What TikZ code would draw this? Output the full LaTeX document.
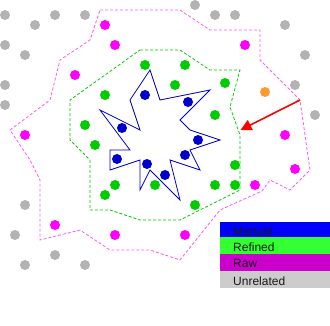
\documentclass[tikz,border=0pt]{standalone}
\usepackage{fontspec}
\setmainfont{Liberation Sans}
\usetikzlibrary{arrows.meta}

\definecolor{manualc}{HTML}{0000CC}
\definecolor{manualleg}{HTML}{0000FF}
\definecolor{refinedc}{HTML}{00CC00}
\definecolor{refinedleg}{HTML}{33FF33}
\definecolor{rawc}{HTML}{FF00FF}
\definecolor{rawline}{HTML}{FF55FF}
\definecolor{rawleg}{HTML}{CC00CC}
\definecolor{otherc}{HTML}{B3B3B3}
\definecolor{otherleg}{HTML}{CCCCCC}
\definecolor{orangec}{HTML}{FF9933}

\tikzset{
  dotr/.store in=\dotr, dotr=5,
  region/.style={line width=0.8pt, dash pattern=on 3pt off 2pt},
  legtext/.style={anchor=base west, inner sep=0pt, font=\fontsize{12}{14}\selectfont, text=black!90}
}

\begin{document}
\begin{tikzpicture}[x=1pt, y=-1pt, >=stealth]
    \useasboundingbox (0,0) rectangle (330,325);

    % --- raw region (magenta dashed) ---
    \draw[region, rawline] (100,10) -- (180,10) -- (210,30) -- (260,30) -- (260,60)
      -- (300,100) -- (310,170) -- (290,190) -- (270,180) -- (262,191) -- (220,210)
      -- (180,260) -- (150,250) -- (110,250) -- (80,230) -- (40,240) -- (40,180)
      -- (30,160) -- (10,130) -- (50,100) -- (60,60) -- (90,40) -- cycle;

    % --- refined region (green dashed) ---
    \draw[region, refinedc] (140,50) -- (180,50) -- (210,70) -- (240,70) -- (230,107)
      -- (240,135) -- (240,190) -- (180,220) -- (140,220) -- (110,210) -- (90,210)
      -- (90,160) -- (70,140) -- (70,100) -- cycle;

    % --- manual outline (blue star) ---
    \draw[manualc, line width=0.8pt] (150,70) -- (160,100) -- (210,90) -- (180,120)
      -- (190,130) -- (220,140) -- (190,150) -- (200,170) -- (170,160) -- (180,200)
      -- (150,170) -- (140,190) -- (140,160) -- (110,170) -- (110,150) -- (130,150)
      -- (100,110) -- (140,130) -- (130,100) -- cycle;

    % --- unrelated points ---
    \fill[otherc] (5,15) circle (\dotr);
    \fill[otherc] (35,25) circle (\dotr);
    \fill[otherc] (55,15) circle (\dotr);
    \fill[otherc] (85,15) circle (\dotr);
    \fill[otherc] (5,45) circle (\dotr);
    \fill[otherc] (25,55) circle (\dotr);
    \fill[otherc] (5,85) circle (\dotr);
    \fill[otherc] (5,105) circle (\dotr);
    \fill[otherc] (195,5) circle (\dotr);
    \fill[otherc] (215,15) circle (\dotr);
    \fill[otherc] (235,15) circle (\dotr);
    \fill[otherc] (285,25) circle (\dotr);
    \fill[otherc] (305,55) circle (\dotr);
    \fill[otherc] (295,85) circle (\dotr);
    \fill[otherc] (315,115) circle (\dotr);
    \fill[otherc] (25,205) circle (\dotr);
    \fill[otherc] (15,235) circle (\dotr);
    \fill[otherc] (55,255) circle (\dotr);
    \fill[otherc] (25,265) circle (\dotr);
    \fill[otherc] (85,265) circle (\dotr);

    % --- raw points ---
    \fill[rawc] (105,25) circle (\dotr);
    \fill[rawc] (115,45) circle (\dotr);
    \fill[rawc] (75,75) circle (\dotr);
    \fill[rawc] (25,135) circle (\dotr);
    \fill[rawc] (245,45) circle (\dotr);
    \fill[rawc] (285,135) circle (\dotr);
    \fill[rawc] (55,225) circle (\dotr);
    \fill[rawc] (115,235) circle (\dotr);
    \fill[rawc] (295,169) circle (\dotr);
    \fill[rawc] (255,185) circle (\dotr);
    \fill[rawc] (185,235) circle (\dotr);
    \fill[orangec] (265,92) circle (\dotr); % odd one out

    % --- refined points ---
    \fill[refinedc] (145,65) circle (\dotr);
    \fill[refinedc] (185,65) circle (\dotr);
    \fill[refinedc] (175,85) circle (\dotr);
    \fill[refinedc] (225,83) circle (\dotr);
    \fill[refinedc] (105,95) circle (\dotr);
    \fill[refinedc] (215,115) circle (\dotr);
    \fill[refinedc] (85,125) circle (\dotr);
    \fill[refinedc] (95,145) circle (\dotr);
    \fill[refinedc] (235,165) circle (\dotr);
    \fill[refinedc] (115,185) circle (\dotr);
    \fill[refinedc] (105,195) circle (\dotr);
    \fill[refinedc] (155,185) circle (\dotr);
    \fill[refinedc] (215,185) circle (\dotr);
    \fill[refinedc] (235,185) circle (\dotr);
    \fill[refinedc] (195,205) circle (\dotr);

    % --- manual points ---
    \fill[manualc] (145,95) circle (\dotr);
    \fill[manualc] (188,102) circle (\dotr);
    \fill[manualc] (122,128) circle (\dotr);
    \fill[manualc] (198,140) circle (\dotr);
    \fill[manualc] (185,155) circle (\dotr);
    \fill[manualc] (117,159) circle (\dotr);
    \fill[manualc] (147,164) circle (\dotr);
    \fill[manualc] (165,175) circle (\dotr);

    % --- red pointer ---
    \coordinate (arr_from) at (300,100);
    \coordinate (arr_to) at (240.5,130);
    \draw[red, line width=1.6pt, -{Triangle[length=11pt, width=11pt]}] (arr_from) -- (arr_to);

    % --- legend ---
    \fill[manualleg]  (220,222) rectangle (330,237);
    \fill[refinedleg] (220,237) rectangle (330,253.5);
    \fill[rawleg]     (220,253.5) rectangle (330,271);
    \fill[otherleg]   (220,271) rectangle (330,288);
    \node[legtext] (leg_manual)  at (233,235.5) {Manual};
    \node[legtext] (leg_refined) at (233,251.5) {Refined};
    \node[legtext] (leg_raw)     at (233,267.5) {Raw};
    \node[legtext] (leg_other)   at (233,285.5) {Unrelated};

\end{tikzpicture}
\end{document}
